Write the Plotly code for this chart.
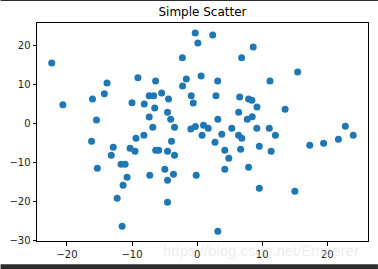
import plotly.graph_objects as go

x_vals = [-22.34, -20.62, -13.84, -14.25, -16.07, -15.46, -9.09, -10.0, -8.12, -7.36,
          -6.66, -7.36, -5.45, -4.39, -6.51, -4.54, -4.05, -6.81, -3.47, -2.26,
          -1.65, -2.23, -6.37, -0.90, -0.59, -0.29, 0.12, 2.40, 8.62, 6.84,
          0.62, 3.16, 2.90, 6.54, 7.91, 8.42, 9.20, 6.39, 3.19, 7.71,
          8.47, 15.45, 11.20, 13.52, -0.97, -0.26, 0.99, 1.71, 5.33, 9.18,
          11.09, 22.78, 23.99, 0.77, 3.79, 6.37, 6.87, 12.03, 2.75, 4.26,
          6.69, 4.87, 11.38, 9.56, 4.26, 7.91, -0.14, 9.56, 15.02, 3.19,
          17.31, 19.44, 21.71, -16.22, -15.33, -12.88, -13.19, -10.30, -9.54, -9.39,
          -8.18, -3.93, -6.36, -5.90, -4.54, -3.47, -11.68, -11.06, -10.76, -11.37,
          -12.28, -11.52, -7.27, -4.96, -3.63, -4.54, -4.54]
y_vals = [15.40, 4.73, 10.28, 7.54, 6.19, 0.82, 11.64, 5.24, 4.91, 7.03,
          7.03, 1.59, 7.72, 6.19, 3.89, 2.86, 1.07, -0.97, -0.97, 16.75,
          11.30, 9.54, 10.79, 7.03, 5.17, 23.07, 20.51, 22.56, 19.49, 16.75,
          12.07, 10.79, 7.03, 6.70, 6.19, 5.93, 4.17, 2.86, 1.07, 1.07,
          1.66, 13.09, 10.79, 3.63, -1.48, -0.82, -0.46, -1.23, -1.23, -1.23,
          -1.23, -0.72, -3.02, -3.02, -2.76, -3.02, -3.79, -3.02, -4.81, -6.85,
          -6.60, -8.90, -7.11, -5.83, -11.71, -11.20, -13.25, -16.57, -17.34, -27.57,
          -5.58, -5.06, -4.04, -4.55, -11.46, -6.09, -8.13, -6.34, -7.11, -3.79,
          -3.02, -4.55, -6.85, -6.85, -7.11, -8.13, -10.43, -10.43, -13.76, -15.81,
          -19.13, -26.29, -13.25, -11.71, -12.99, -14.53, -20.15]

x_ticks = [-20, -10, 0, 10, 20]
y_ticks = [-30, -20, -10, 0, 10, 20]
title_text = "Simple Scatter"
watermark = "https://blog.csdn.net/Emperer"

fig = go.Figure()
fig.add_trace(go.Scatter(
    x=x_vals, y=y_vals, mode="markers",
    marker=dict(color="#1f77b4", size=7, line=dict(width=0)),
    showlegend=False,
))

axis_common = dict(
    showgrid=False, zeroline=False, showline=True, linecolor="black", linewidth=1,
    mirror=True, ticks="outside", ticklen=3.5, tickwidth=1, tickcolor="black",
    tickfont=dict(family="DejaVu Sans", size=10, color="#222222"),
)

fig.update_layout(
    width=378, height=269,
    margin=dict(l=34, r=9, t=23, b=28),
    paper_bgcolor="white", plot_bgcolor="white",
    title=dict(text=title_text, x=0.5, xref="paper", y=1, yref="container",
               yanchor="top", pad=dict(t=8),
               font=dict(family="DejaVu Sans", size=12, color="black")),
    xaxis=dict(range=[-24.6, 26.26], tickvals=x_ticks,
               ticktext=["\u2212" + str(-v) if v < 0 else str(v) for v in x_ticks],
               **axis_common),
    yaxis=dict(range=[-30.07, 25.64], tickvals=y_ticks,
               ticktext=["\u2212" + str(-v) if v < 0 else str(v) for v in y_ticks],
               **axis_common),
    shapes=[
        dict(type="rect", xref="paper", yref="paper", x0=-0.11, x1=1.03,
             y0=-0.1295, y1=-0.1065, fillcolor="#2d2d2d", line=dict(width=0), layer="above"),
        dict(type="rect", xref="paper", yref="paper", x0=-0.11, x1=1.03,
             y0=1.1009, y1=1.11, fillcolor="#2d2d2d", line=dict(width=0), layer="above"),
    ],
    annotations=[
        dict(text=watermark, xref="paper", yref="paper", x=0.98, y=-0.045,
             xanchor="right", yanchor="middle", showarrow=False,
             font=dict(family="Liberation Sans", size=15, color="rgba(220,220,220,0.5)")),
    ],
)

fig.write_html("out.html")
